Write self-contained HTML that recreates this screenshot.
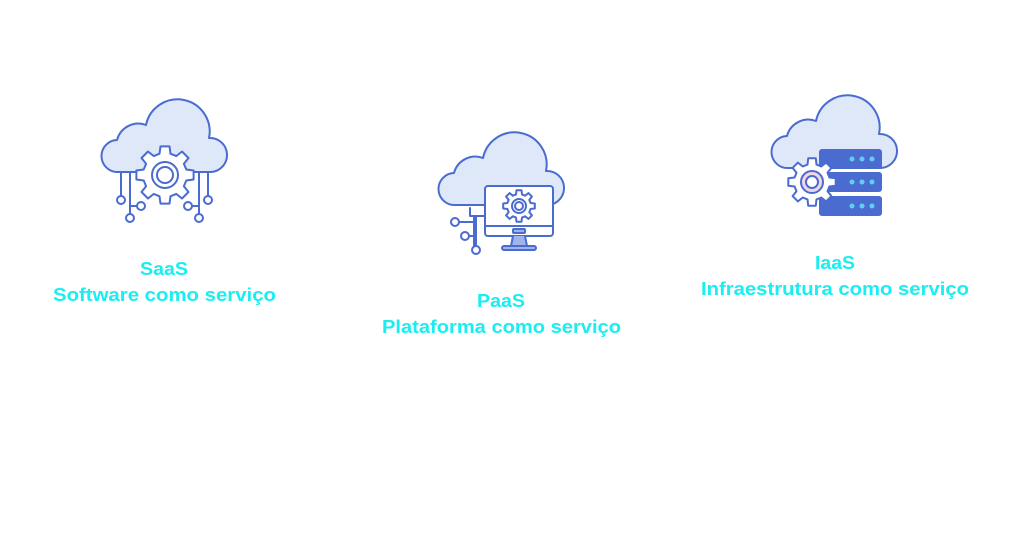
<!DOCTYPE html>
<html><head><meta charset="utf-8"><style>
html,body{margin:0;padding:0;background:#fff;width:1024px;height:559px;overflow:hidden}
svg{display:block}
text{font-family:"Liberation Sans",sans-serif;font-weight:bold;font-size:18px;fill:#19eef0}
</style></head><body>
<svg id="s" width="1024" height="559" viewBox="0 0 1024 559" xmlns="http://www.w3.org/2000/svg">
<defs>
<path id="cl" d="M118 172 A16 16 0 0 1 117 140 A22 22 0 0 1 146 125 A32 32 0 1 1 209 138 A17 17 0 0 1 211 172 Z"/>
</defs>
<g stroke="#4a6bd0" stroke-width="2" stroke-linejoin="round" stroke-linecap="round">
<!-- SaaS -->
<use href="#cl" fill="#dfe8f8"/>
<g fill="#fff">
<path d="M121 196 V172 H135 M130 214 V172 M142 206 H130 M208 196 V172 H195 M199 214 V172 M187 206 H199" fill="none"/>
<circle cx="121" cy="200" r="4"/><circle cx="130" cy="218" r="4"/><circle cx="141" cy="206" r="4"/>
<circle cx="208" cy="200" r="4"/><circle cx="199" cy="218" r="4"/><circle cx="188" cy="206" r="4"/>
<path id="g1"/>
<circle cx="165" cy="175" r="13"/><circle cx="165" cy="175" r="8"/>
</g>
<!-- PaaS -->
<use href="#cl" transform="translate(337,33)" fill="#dfe8f8"/>
<g fill="#fff">
<path d="M470 208 V216 H485 M474 216 V246 M476 216 V246 M455 222 H474 M466 236 H474" fill="none"/>
<circle cx="455" cy="222" r="4"/><circle cx="465" cy="236" r="4"/><circle cx="476" cy="250" r="4"/>
<rect x="485" y="186" width="68" height="50" rx="3"/>
<path d="M485 226 H553" fill="none"/>
<rect x="513" y="229" width="12" height="4" rx="1" fill="#9fb4ea"/>
<path d="M513 236 L511 246 H527 L525 236" fill="#9fb4ea"/>
<rect x="502" y="246" width="34" height="4" rx="2" fill="#9fb4ea"/>
<path id="g2"/>
<circle cx="519" cy="206" r="7"/><circle cx="519" cy="206" r="4"/>
</g>
<!-- IaaS -->
<use href="#cl" transform="translate(670,-4)" fill="#dfe8f8"/>
<g>
<rect x="820" y="150" width="61" height="18" rx="2" fill="#4a6bd0"/>
<rect x="820" y="173" width="61" height="18" rx="2" fill="#4a6bd0"/>
<rect x="820" y="197" width="61" height="18" rx="2" fill="#4a6bd0"/>
<path id="g3" fill="#fff"/>
<circle cx="812" cy="182" r="11" fill="#f2d6e6"/><circle cx="812" cy="182" r="6" fill="#fff"/>
</g>
</g>
<g fill="#5fd0f0">
<circle cx="852" cy="159" r="2.5"/><circle cx="862" cy="159" r="2.5"/><circle cx="872" cy="159" r="2.5"/>
<circle cx="852" cy="182" r="2.5"/><circle cx="862" cy="182" r="2.5"/><circle cx="872" cy="182" r="2.5"/>
<circle cx="852" cy="206" r="2.5"/><circle cx="862" cy="206" r="2.5"/><circle cx="872" cy="206" r="2.5"/>
</g>
<text x="140" y="275" textLength="48" lengthAdjust="spacingAndGlyphs">SaaS</text>
<text x="53" y="301" textLength="223" lengthAdjust="spacingAndGlyphs">Software como serviço</text>
<text x="477" y="307" textLength="48" lengthAdjust="spacingAndGlyphs">PaaS</text>
<text x="382" y="333" textLength="239" lengthAdjust="spacingAndGlyphs">Plataforma como serviço</text>
<text x="815" y="269" textLength="40" lengthAdjust="spacingAndGlyphs">IaaS</text>
<text x="701" y="295" textLength="268" lengthAdjust="spacingAndGlyphs">Infraestrutura como serviço</text>
</svg>
<script>
function gear(cx,cy,R,r,n){var d="",s=Math.PI*2/n;for(var i=0;i<n;i++){var a=i*s;var pts=[[r,a-s*0.32],[R,a-s*0.2],[R,a+s*0.2],[r,a+s*0.32]];pts.forEach(function(p,j){var x=cx+p[0]*Math.cos(p[1]),y=cy+p[0]*Math.sin(p[1]);d+=(i==0&&j==0?"M":"L")+x.toFixed(1)+" "+y.toFixed(1)+" ";});}return d+"Z";}
document.getElementById("g1").setAttribute("d",gear(165,175,29,22,8));
document.getElementById("g2").setAttribute("d",gear(519,206,16,12,8));
document.getElementById("g3").setAttribute("d",gear(812,182,24,18,8));
</script>
</body></html>
